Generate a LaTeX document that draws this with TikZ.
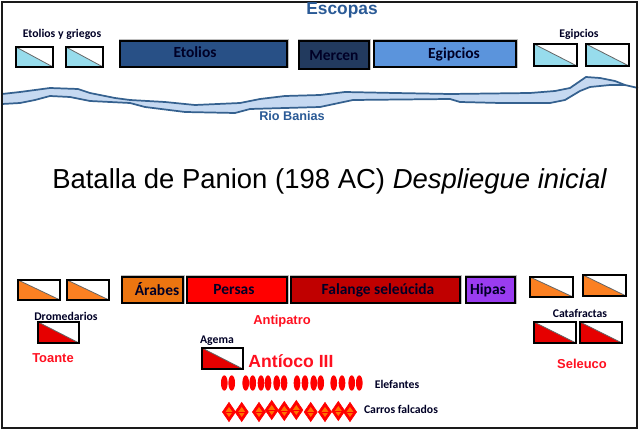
\documentclass[tikz,border=0pt]{standalone}
\usepackage{fontspec}
\setmainfont{Liberation Sans}
\newfontfamily\carl{Carlito}
\usetikzlibrary{shapes.geometric}
\definecolor{frameC}{HTML}{1A1A1A}
\definecolor{riverL}{HTML}{C6D9F1}
\definecolor{riverD}{HTML}{35618F}
\definecolor{blueT}{HTML}{2A5A96}
\definecolor{etolC}{HTML}{285086}
\definecolor{merC}{HTML}{223A5E}
\definecolor{egiC}{HTML}{5B94DC}
\definecolor{cyanC}{HTML}{97DCEC}
\definecolor{orC}{HTML}{FB8022}
\definecolor{arC}{HTML}{EC7510}
\definecolor{redC}{HTML}{E60000}
\definecolor{perC}{HTML}{FF0000}
\definecolor{falC}{HTML}{C00000}
\definecolor{hipC}{HTML}{9A3CF0}
\definecolor{txtR}{HTML}{FF1020}
\tikzset{
 x=0.75pt,y=-0.75pt,
 unit/.style={draw=black,line width=1.9pt,fill=#1,inner sep=0pt},
 lab/.style={font=\carl\bfseries\fontsize{8.8}{9}\selectfont,text=black!85!blue,inner sep=0pt},
 unitlab/.style={font=\carl\bfseries\fontsize{11.6}{12}\selectfont,text=black!85!blue,inner sep=0pt},
 redlab/.style={font=\bfseries\fontsize{#1}{12}\selectfont,text=txtR,inner sep=0pt},
 ele/.style={ellipse,fill=red,minimum width=5pt,minimum height=11.5pt,inner sep=0pt},
 car/.style={diamond,aspect=0.68,fill=red,draw=red,line width=0.5pt,minimum width=10pt,minimum height=14.5pt,inner sep=0pt},
}
\newcommand{\flagbox}[6]{% x1,y1,x2,y2,colour,name
 \fill[white] (#1,#2) rectangle (#3,#4);
 \fill[#5] (#1,#2) -- (#3,#4) -- (#1,#4) -- cycle;
 \draw[gray!80!black,line width=0.6pt] (#1,#2) -- (#3,#4);
 \node[draw=black,line width=1.9pt,inner sep=0pt,minimum width={(#3-#1)*0.75pt},minimum height={(#4-#2)*0.75pt}] (#6) at ({(#1+#3)/2},{(#2+#4)/2}) {};
}
\newcommand{\unitbar}[6]{% x1,y1,x2,y2,colour,name
 \fill[black!25] (#1-1.5,#2-1.5) rectangle (#3+1.5,#4+1.5);
 \node[unit=#5,minimum width={(#3-#1)*0.75pt},minimum height={(#4-#2)*0.75pt}] (#6) at ({(#1+#3)/2},{(#2+#4)/2}) {};
}
\begin{document}
\begin{tikzpicture}
\useasboundingbox (0,0) rectangle (640,431);
\fill[white] (0,0) rectangle (640,431);
% river
\fill[riverL] (2,94) -- (20,92) -- (50,88) -- (78,89) -- (90,93) -- (115,98) -- (130,100) -- (165,102) -- (195,105) -- (240,103) -- (260,99) -- (285,96) -- (320,95) -- (345,92) -- (395,93) -- (450,94) -- (530,93) -- (555,91) -- (570,88) -- (586,77) -- (600,78) -- (615,81) -- (625,85) -- (610,85) -- (590,87) -- (580,91) -- (565,100) -- (550,103) -- (500,103) -- (460,102) -- (450,99) -- (353,100) -- (320,107) -- (285,108) -- (250,109) -- (235,113) -- (185,112) -- (145,107) -- (130,103) -- (90,101) -- (70,97) -- (50,96) -- (35,100) -- (20,103) -- (2,104) -- cycle;
\draw[riverD,line width=1.3pt,line join=round] (2,94) -- (20,92) -- (50,88) -- (78,89) -- (90,93) -- (115,98) -- (130,100) -- (165,102) -- (195,105) -- (240,103) -- (260,99) -- (285,96) -- (320,95) -- (345,92) -- (395,93) -- (450,94) -- (530,93) -- (555,91) -- (570,88) -- (586,77) -- (600,78) -- (615,81) -- (625,85) -- (638,88);
\draw[riverD,line width=1.3pt,line join=round] (2,104) -- (20,103) -- (35,100) -- (50,96) -- (70,97) -- (90,101) -- (130,103) -- (145,107) -- (185,112) -- (235,113) -- (250,109) -- (285,108) -- (320,107) -- (353,100) -- (450,99) -- (460,102) -- (500,103) -- (550,103) -- (565,100) -- (580,91) -- (590,87) -- (610,85) -- (625,85);
% frame
\draw[frameC,line width=2.1pt] (2,2) rectangle (637,428);
% top
\node[font=\bfseries\fontsize{13}{14}\selectfont,text=blueT,inner sep=0pt] (esc) at (342,10) {Escopas};
\node[font=\bfseries\fontsize{9.5}{10}\selectfont,text=blueT,inner sep=0pt] (rio) at (292,116) {Rio Banias};
\node[lab] (etg) at (62,34) {Etolios y griegos};
\node[lab] (egl) at (579,34) {Egipcios};
\flagbox{16}{47}{53}{67}{cyanC}{f1}
\flagbox{66}{47}{103}{67}{cyanC}{f2}
\flagbox{534}{44}{577}{66}{cyanC}{f3}
\flagbox{586}{44}{629}{66}{cyanC}{f4}
\unitbar{120}{41}{287}{67}{etolC}{b1}
\unitbar{299}{41}{369}{69}{merC}{b2}
\unitbar{374}{41}{516}{67}{egiC}{b3}
\node[unitlab] at (195,52) {Etolios};
\node[unitlab] at (334,56) {Mercen};
\node[unitlab] at (454,54) {Egipcios};
% title
\node[anchor=west,font=\fontsize{20.6}{22}\selectfont,inner sep=0pt,text=black] (title) at (52,181) {Batalla de Panion (198 AC) \itshape Despliegue inicial};
% bottom
\flagbox{18}{280}{60}{300}{orC}{f5}
\flagbox{67}{280}{109}{300}{orC}{f6}
\flagbox{530}{277}{573}{297}{orC}{f7}
\flagbox{583}{275}{626}{296}{orC}{f8}
\unitbar{122}{277}{183}{303}{arC}{b4}
\unitbar{187}{277}{287}{303}{perC}{b5}
\unitbar{291}{277}{460}{303}{falC}{b6}
\unitbar{466}{277}{515}{303}{hipC}{b7}
\node[unitlab] at (157,289) {Árabes};
\node[unitlab] at (234,290) {Persas};
\node[unitlab] at (378,290) {Falange seleúcida};
\node[unitlab] at (488,290) {Hipas};
\node[lab] at (66,316) {Dromedarios};
\node[lab] at (217,341) {Agema};
\node[lab] at (580,313) {Catafractas};
\flagbox{38}{322}{79}{343}{redC}{f9}
\flagbox{202}{348}{243}{369}{redC}{f10}
\flagbox{534}{322}{576}{343}{redC}{f11}
\flagbox{580}{322}{622}{343}{redC}{f12}
\node[redlab=9.7] at (53,358) {Toante};
\node[redlab=9.7] at (282,321) {Antipatro};
\node[redlab=9.7] at (582,364) {Seleuco};
\node[redlab=13.2] at (291,361) {Antíoco III};
\foreach \px in {224.3,231.7,245.7,252.7,261,268,276.7,284,297,305,313.7,320.7,333.7,342,351.7,359.3}
  \node[ele] at (\px,383) {};
\foreach \px/\py in {229/412,241.7/412,259/412,271.7/410,284.3/411,296.3/410,310.7/412,325/412,338.3/411,350/412}{
  \node[car] at (\px,\py) {};
  \fill[orange!90!red] (\px-3.5,\py) -- (\px,\py-5) -- (\px+3.5,\py) -- (\px,\py+5) -- cycle;
  \draw[red,line width=0.4pt] (\px-3.5,\py) -- (\px+3.5,\py);
}
\node[lab] at (397,384) {Elefantes};
\node[lab] at (401,409) {Carros falcados};
\end{tikzpicture}
\end{document}
